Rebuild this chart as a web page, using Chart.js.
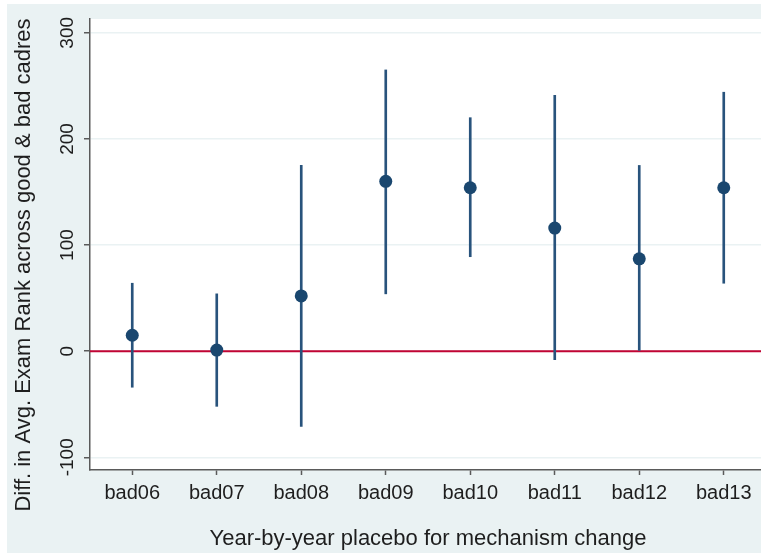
<!DOCTYPE html>
<html>
<head>
<meta charset="utf-8">
<script src="https://cdn.jsdelivr.net/npm/chart.js@4.4.1/dist/chart.umd.min.js"></script>
<style>
  html, body { margin: 0; padding: 0; background: #fff; overflow: hidden; }
  #wrap { position: absolute; left: 7px; top: 4px; width: 759px; height: 549px; background: #eaf2f3; }
</style>
</head>
<body>
<div id="wrap"><canvas id="myChart" width="759" height="549"></canvas></div>
<script>
// data
const categories = ["bad06", "bad07", "bad08", "bad09", "bad10", "bad11", "bad12", "bad13"];
const estimates = [15, 1, 52, 160, 154, 116, 87, 154];
const ciLow = [-34, -52, -71, 54, 89, -8, 0, 64];
const ciHigh = [64, 54, 175, 265, 220, 241, 175, 244];
const yTicks = [-100, 0, 100, 200, 300];
const refLine = 0;

const xTitle = "Year-by-year placebo for mechanism change";
const yTitle = "Diff. in Avg. Exam Rank across good & bad cadres";

const navy = "#1a476f";
const axisGrey = "#5a5a5a";
const textCol = "#1e1e1e";
const FONT = "'Liberation Sans', Arial, sans-serif";

// plot region white, red reference line, rotated y labels and titles
const plotBg = {
  id: "plotBg",
  beforeDraw(chart) {
    const a = chart.chartArea;
    const c = chart.ctx;
    c.save();
    c.fillStyle = "#ffffff";
    c.fillRect(a.left, a.top, a.right - a.left, a.bottom - a.top);
    c.restore();
  },
  beforeDatasetsDraw(chart) {
    const a = chart.chartArea;
    const c = chart.ctx;
    const y = chart.scales.y.getPixelForValue(refLine);
    c.save();
    c.strokeStyle = "#c10534";
    c.lineWidth = 2;
    c.beginPath();
    c.moveTo(a.left, y);
    c.lineTo(a.right, y);
    c.stroke();
    c.restore();
  },
  afterDraw(chart) {
    const c = chart.ctx;
    const ys = chart.scales.y;
    c.save();
    c.fillStyle = textCol;
    // y tick labels, reading upwards
    c.font = "19px " + FONT;
    c.textAlign = "center";
    c.textBaseline = "middle";
    yTicks.forEach(v => {
      c.save();
      c.translate(61, ys.getPixelForValue(v));
      c.rotate(-Math.PI / 2);
      c.fillText(String(v), 0, 0);
      c.restore();
    });
    // axis titles
    c.font = "22px " + FONT;
    c.textBaseline = "alphabetic";
    c.fillText(xTitle, 421, 541);
    c.translate(23, 261);
    c.rotate(-Math.PI / 2);
    c.fillText(yTitle, 0, 0);
    c.restore();
  }
};

const ctx = document.getElementById("myChart");
const chart = new Chart(ctx, {
  data: {
    labels: categories,
    datasets: [
      {
        type: "line",
        label: "estimate",
        data: estimates,
        showLine: false,
        pointRadius: 6.5,
        pointHoverRadius: 6.5,
        pointBackgroundColor: navy,
        pointBorderWidth: 0,
        order: 0,
      },
      {
        type: "bar",
        label: "95% CI",
        data: ciLow.map((lo, i) => [lo, ciHigh[i]]),
        backgroundColor: "#28537c",
        borderWidth: 0,
        barThickness: 2,
        order: 1,
      },
    ],
  },
  options: {
    responsive: false,
    animation: false,
    layout: { autoPadding: false, padding: { left: 0, top: 15, right: 0, bottom: 0 } },
    plugins: {
      legend: { display: false },
      tooltip: { enabled: false },
    },
    scales: {
      x: {
        type: "category",
        offset: true,
        afterFit(scale) {
          scale.height = 83;
          scale.paddingLeft = 0;
          scale.paddingRight = 0;
        },
        grid: {
          offset: false,
          drawOnChartArea: false,
          tickLength: 5,
          tickColor: axisGrey,
          tickWidth: 1.5,
        },
        border: { color: axisGrey, width: 1.5 },
        ticks: {
          color: textCol,
          font: { family: FONT, size: 20 },
          padding: 6,
          maxRotation: 0,
        },
      },
      y: {
        min: -112,
        max: 313,
        afterFit(scale) {
          scale.width = 83;
          scale.paddingTop = 0;
          scale.paddingBottom = 0;
        },
        afterBuildTicks(scale) { scale.ticks = yTicks.map(v => ({ value: v })); },
        grid: {
          color: "#eaf2f3",
          lineWidth: 1.5,
          tickLength: 6,
          tickColor: axisGrey,
          tickWidth: 1.5,
        },
        border: { color: axisGrey, width: 1.5 },
        ticks: { display: false },
      },
    },
  },
  plugins: [plotBg],
});
</script>
</body>
</html>
